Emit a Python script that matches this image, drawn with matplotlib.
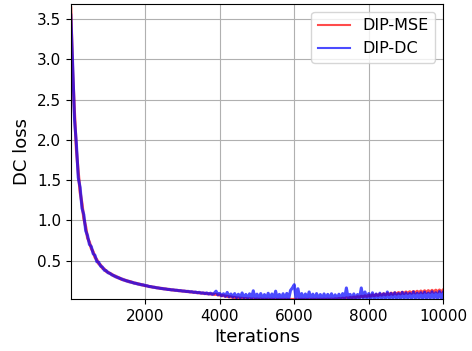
import matplotlib
matplotlib.use("Agg")
import matplotlib.pyplot as plt
import numpy as np

# iterations sampled every 50 steps
iterations = np.arange(0, 10001, 50)

# DC loss of the DIP-MSE run
dip_mse = [
    3.64, 2.86, 2.33, 1.88, 1.60, 1.35, 1.21, 1.02, 0.92, 0.78, 0.73, 0.65, 0.61, 0.54, 0.51, 0.46, 0.445, 0.405, 0.395, 0.365,
    0.355, 0.340, 0.330, 0.310, 0.308, 0.287, 0.288, 0.267, 0.268, 0.252, 0.253, 0.237, 0.240, 0.226, 0.224, 0.214, 0.214, 0.202, 0.203, 0.192,
    0.190, 0.184, 0.180, 0.174, 0.172, 0.166, 0.164, 0.158, 0.157, 0.151, 0.151, 0.145, 0.144, 0.139, 0.138, 0.133, 0.133, 0.128, 0.128, 0.123,
    0.123, 0.118, 0.118, 0.113, 0.113, 0.108, 0.108, 0.103, 0.103, 0.098, 0.098, 0.093, 0.094, 0.088, 0.089, 0.084, 0.085, 0.079, 0.081, 0.075,
    0.072, 0.066, 0.064, 0.058, 0.055, 0.050, 0.048, 0.043, 0.041, 0.036, 0.035, 0.031, 0.030, 0.027, 0.027, 0.024, 0.024, 0.021, 0.022, 0.019,
    0.021, 0.018, 0.020, 0.017, 0.019, 0.017, 0.019, 0.016, 0.019, 0.016, 0.018, 0.016, 0.018, 0.016, 0.018, 0.016, 0.018, 0.016, 0.018, 0.016,
    0.018, 0.016, 0.018, 0.016, 0.018, 0.016, 0.018, 0.016, 0.018, 0.016, 0.019, 0.016, 0.019, 0.017, 0.019, 0.017, 0.020, 0.017, 0.020, 0.018,
    0.020, 0.018, 0.024, 0.021, 0.028, 0.024, 0.032, 0.028, 0.037, 0.032, 0.042, 0.036, 0.047, 0.041, 0.052, 0.045, 0.057, 0.050, 0.062, 0.054,
    0.068, 0.058, 0.074, 0.062, 0.078, 0.066, 0.083, 0.070, 0.088, 0.073, 0.092, 0.077, 0.096, 0.080, 0.100, 0.083, 0.103, 0.086, 0.107, 0.089,
    0.110, 0.092, 0.113, 0.094, 0.116, 0.097, 0.119, 0.099, 0.122, 0.100, 0.125, 0.103, 0.127, 0.105, 0.130, 0.107, 0.132, 0.109, 0.134, 0.111, 0.135,
]

# DC loss of the DIP-DC run
dip_dc = [
    3.55, 2.94, 2.25, 1.95, 1.53, 1.41, 1.15, 1.07, 0.87, 0.81, 0.70, 0.675, 0.585, 0.565, 0.485, 0.480, 0.430, 0.420, 0.380, 0.376,
    0.348, 0.342, 0.322, 0.316, 0.298, 0.296, 0.279, 0.276, 0.260, 0.259, 0.244, 0.245, 0.231, 0.231, 0.218, 0.219, 0.207, 0.208, 0.197, 0.199,
    0.188, 0.187, 0.177, 0.177, 0.169, 0.169, 0.161, 0.161, 0.154, 0.154, 0.147, 0.148, 0.141, 0.142, 0.135, 0.137, 0.130, 0.132, 0.125, 0.127,
    0.120, 0.122, 0.115, 0.118, 0.110, 0.114, 0.104, 0.110, 0.099, 0.106, 0.094, 0.100, 0.089, 0.098, 0.084, 0.095, 0.080, 0.093, 0.120, 0.074,
    0.092, 0.062, 0.088, 0.055, 0.105, 0.050, 0.085, 0.045, 0.090, 0.040, 0.082, 0.036, 0.098, 0.034, 0.080, 0.030, 0.087, 0.028, 0.125, 0.026,
    0.083, 0.024, 0.090, 0.022, 0.078, 0.025, 0.094, 0.021, 0.085, 0.023, 0.120, 0.020, 0.080, 0.024, 0.088, 0.020, 0.092, 0.022, 0.130, 0.160,
    0.200, 0.025, 0.150, 0.022, 0.090, 0.020, 0.085, 0.024, 0.110, 0.021, 0.083, 0.020, 0.090, 0.023, 0.078, 0.020, 0.086, 0.022, 0.080, 0.021,
    0.088, 0.022, 0.075, 0.020, 0.082, 0.024, 0.090, 0.021, 0.160, 0.025, 0.080, 0.022, 0.086, 0.024, 0.078, 0.020, 0.160, 0.025, 0.110, 0.022,
    0.090, 0.024, 0.100, 0.022, 0.085, 0.026, 0.095, 0.023, 0.088, 0.025, 0.110, 0.022, 0.092, 0.027, 0.100, 0.024, 0.090, 0.026, 0.105, 0.025,
    0.098, 0.026, 0.092, 0.028, 0.110, 0.025, 0.095, 0.027, 0.100, 0.024, 0.108, 0.026, 0.096, 0.028, 0.112, 0.025, 0.100, 0.027, 0.115, 0.026, 0.105,
]

fig = plt.figure(figsize=(4.72, 3.51), dpi=100)
ax = fig.add_axes([0.150, 0.147, 0.789, 0.842])

ax.plot(iterations, dip_mse, color="red", alpha=0.7, linewidth=2.2, label="DIP-MSE")
ax.plot(iterations, dip_dc, color="blue", alpha=0.7, linewidth=2.2, label="DIP-DC")

ax.set_xlim(0, 10000)
ax.set_ylim(0.0175, 3.69)
ax.set_xticks([2000, 4000, 6000, 8000, 10000])
ax.set_yticks([0.5, 1.0, 1.5, 2.0, 2.5, 3.0, 3.5])
ax.tick_params(labelsize=11)
ax.grid(True)
ax.set_xlabel("Iterations", fontsize=13, labelpad=3)
ax.set_ylabel("DC loss", fontsize=13)
leg = ax.legend(loc="upper right", fontsize=11.5)
for line in leg.get_lines():
    line.set_linewidth(1.5)

fig.savefig("out.png")
